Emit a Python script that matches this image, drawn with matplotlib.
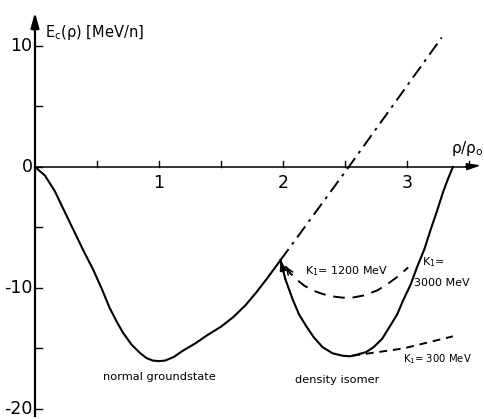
import matplotlib
matplotlib.use("Agg")
import matplotlib.pyplot as plt

# ---------------- data ----------------
# normal groundstate well (solid), rho/rho0 vs E_c [MeV/n]
well1_x = [0.0, 0.08, 0.16, 0.23, 0.31, 0.39, 0.47, 0.54, 0.60, 0.66, 0.71, 0.78, 0.85,
           0.90, 0.95, 1.00, 1.05, 1.12, 1.19, 1.29, 1.39, 1.50, 1.60, 1.70, 1.79, 1.88, 1.98]
well1_y = [0.0, -0.7, -2.0, -3.5, -5.2, -6.9, -8.5, -10.1, -11.6, -12.8, -13.7, -14.7, -15.4,
           -15.8, -16.0, -16.05, -16.0, -15.7, -15.2, -14.6, -13.9, -13.2, -12.4, -11.4, -10.3, -9.1, -7.7]

# continuation without isomer (dash-dot)
cont_x = [1.98, 2.53, 3.28]
cont_y = [-7.7, 0.0, 10.7]

# density isomer well, K1 = 3000 MeV (solid)
iso_x = [1.98, 2.02, 2.08, 2.13, 2.19, 2.25, 2.32, 2.40, 2.48, 2.54, 2.60, 2.67, 2.73,
         2.80, 2.86, 2.92, 2.97, 3.03, 3.08, 3.14, 3.19, 3.24, 3.29, 3.33, 3.37]
iso_y = [-7.7, -9.3, -11.0, -12.2, -13.2, -14.1, -14.9, -15.4, -15.6, -15.65, -15.5, -15.3, -14.9,
         -14.2, -13.2, -12.2, -11.0, -9.7, -8.3, -6.8, -5.2, -3.7, -2.1, -1.0, 0.0]

# K1 = 1200 MeV (dashed)
k1200_x = [2.02, 2.06, 2.11, 2.17, 2.24, 2.32, 2.40, 2.48, 2.56, 2.66, 2.76, 2.84, 2.92, 3.01]
k1200_y = [-8.2, -8.8, -9.3, -9.8, -10.2, -10.5, -10.7, -10.8, -10.8, -10.6, -10.2, -9.7, -9.1, -8.3]

# K1 = 300 MeV (dashed)
k300_x = [2.56, 2.97, 3.37]
k300_y = [-15.6, -15.0, -14.0]

y_ticks_major = [10, 0, -10, -20]
y_ticks_minor = [5, -5, -15]
x_ticks_major = [1, 2, 3]
x_ticks_minor = [0.5, 1.5, 2.5, 3.5]

plt.rcParams["font.family"] = ["DejaVu Sans"]
plt.rcParams["mathtext.default"] = "regular"

fig = plt.figure(figsize=(4.85, 4.19), dpi=100)
ax = fig.add_axes([0, 0, 1, 1])
ax.set_xlim(-0.282, 3.629)
ax.set_ylim(-20.83, 13.8)
ax.axis("off")

K = "black"
# axes lines
ax.plot([0, 0], [-20.6, 12.3], color=K, lw=1.6)
ax.plot([0, 3.52], [0, 0], color=K, lw=1.1)
ax.annotate("", xy=(0, 13.0), xytext=(0, 11.0),
            arrowprops=dict(arrowstyle="-|>,head_length=0.9,head_width=0.25", color=K, lw=1.6))
ax.annotate("", xy=(3.62, 0.15), xytext=(3.45, 0.0),
            arrowprops=dict(arrowstyle="-|>,head_length=0.8,head_width=0.2", color=K, lw=1.2))

# y ticks (pointing right) and labels
for v in y_ticks_major + y_ticks_minor:
    ax.plot([0, 0.055], [v, v], color=K, lw=1.0)
for v in y_ticks_major:
    ax.text(-0.02, v, f"{v}", ha="right", va="center", fontsize=12.5)
# x ticks (pointing up) and labels
for v in x_ticks_major + x_ticks_minor:
    ax.plot([v, v], [0, 0.5], color=K, lw=1.0)
for v in x_ticks_major:
    ax.text(v, -0.6, f"{v}", ha="center", va="top", fontsize=12.5)

# curves
ax.plot(well1_x, well1_y, color=K, lw=1.5)
ax.plot(cont_x, cont_y, color=K, lw=1.4, linestyle=(0, (7, 3, 1.5, 3)))
ax.plot(iso_x, iso_y, color=K, lw=1.5)
ax.plot(k1200_x, k1200_y, color=K, lw=1.4, linestyle=(0, (6, 4)))
ax.plot(k300_x, k300_y, color=K, lw=1.4, linestyle=(0, (4, 3)))

# arrowheads at the branching point
ax.annotate("", xy=(iso_x[0], iso_y[0]), xytext=(iso_x[1], iso_y[1]),
            arrowprops=dict(arrowstyle="-|>,head_length=0.6,head_width=0.2", color=K, lw=1.2,
                            shrinkA=0, shrinkB=0))
ax.annotate("", xy=(k1200_x[0], k1200_y[0]), xytext=(k1200_x[1], k1200_y[1]),
            arrowprops=dict(arrowstyle="->,head_length=0.5,head_width=0.2", color=K, lw=1.1,
                            shrinkA=0, shrinkB=0))

# labels
ax.text(0.08, 11.1, r"E$_{c}$(ρ) [MeV/n]", ha="left", va="center", fontsize=10.5)
ax.text(3.62, 1.5, r"ρ/ρ$_{o}$", ha="right", va="center", fontsize=11)
ax.text(1.0, -17.4, "normal groundstate", ha="center", va="center", fontsize=8.2)
ax.text(2.44, -17.6, "density isomer", ha="center", va="center", fontsize=8.2)
ax.text(2.18, -8.6, r"K$_{1}$= 1200 MeV", ha="left", va="center", fontsize=8)
ax.text(3.12, -7.9, r"K$_{1}$=", ha="left", va="center", fontsize=8)
ax.text(3.06, -9.6, "3000 MeV", ha="left", va="center", fontsize=8)
ax.text(2.97, -15.9, r"K$_{1}$= 300 MeV", ha="left", va="center", fontsize=7.2)

fig.savefig("out.png", dpi=100)
